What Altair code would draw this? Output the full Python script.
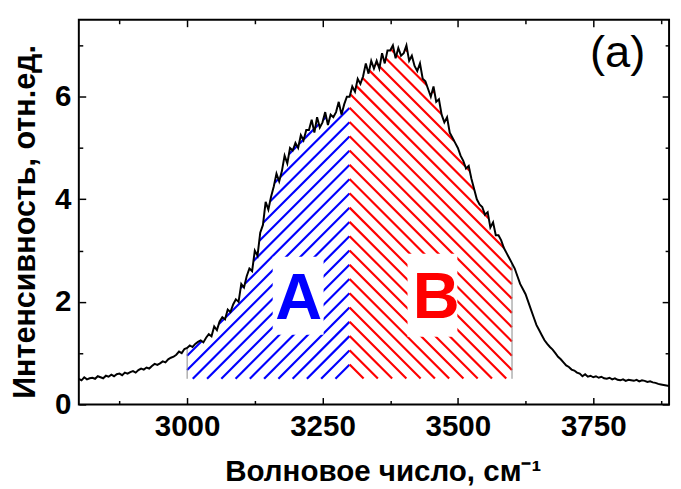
import altair as alt
import numpy as np
import pandas as pd

# ---------------- data ----------------
x_start = 2800
x_step = 5
intensity = [
    0.50, 0.47, 0.53, 0.49, 0.51,  0.52, 0.50, 0.55, 0.53, 0.51,
    0.56, 0.54, 0.58, 0.55, 0.59,  0.60, 0.57, 0.62, 0.60, 0.63,
    0.65, 0.62, 0.67, 0.70, 0.68,  0.72, 0.70, 0.75, 0.79, 0.77,
    0.80, 0.84, 0.82, 0.88, 0.91,  0.93, 0.97, 1.03, 1.00, 1.08,
    1.10, 1.15, 1.12, 1.18, 1.22,  1.25, 1.21, 1.30, 1.37, 1.33,
    1.52, 1.45, 1.62, 1.70, 1.66,  1.85, 1.80, 1.95, 2.05, 2.00,
    2.35, 2.28, 2.50, 2.65, 2.60,  3.00, 2.90, 3.35, 3.50, 3.95,
    3.80, 4.05, 4.25, 4.50, 4.35,  4.55, 4.85, 4.70, 5.00, 4.95,
    5.10, 5.00, 5.25, 5.15, 5.35,  5.35, 5.55, 5.30, 5.60, 5.40,
    5.50, 5.70, 5.45, 5.65, 5.60,  5.70, 5.90, 5.65, 5.85, 6.00,
    6.00, 6.20, 6.10, 6.35, 6.25,  6.40, 6.65, 6.45, 6.70, 6.55,
    6.70, 6.55, 6.85, 6.65, 6.90,  6.90, 7.00, 6.75, 6.95, 6.80,
    6.85, 7.00, 6.70, 6.80, 6.60,  6.50, 6.65, 6.35, 6.30, 6.15,
    6.00, 6.20, 5.90, 5.95, 5.65,  5.50, 5.60, 5.30, 5.20, 5.10,
    5.00, 4.85, 4.75, 4.60, 4.65,  4.40, 4.20, 4.00, 3.90, 3.85,
    3.70, 3.75, 3.45, 3.55, 3.30,  3.30, 3.20, 3.05, 2.95, 2.85,
    2.75, 2.65, 2.50, 2.35, 2.25,  2.15, 2.00, 1.85, 1.70, 1.55,
    1.45, 1.35, 1.25, 1.18, 1.12,  1.07, 1.00, 0.93, 0.88, 0.82,
    0.76, 0.73, 0.68, 0.66, 0.62,  0.60, 0.55, 0.59, 0.54, 0.56,
    0.53, 0.55, 0.52, 0.54, 0.51,  0.50, 0.52, 0.49, 0.51, 0.48,
    0.47, 0.49, 0.46, 0.48, 0.47,  0.46, 0.48, 0.45, 0.47, 0.46,
    0.44, 0.45, 0.43, 0.42, 0.40,  0.39, 0.38, 0.37, 0.36,
]
wavenumber = [x_start + x_step * i for i in range(len(intensity))]

region_names = ["A", "B"]
region_from = [3000, 3300]
region_to = [3300, 3600]
region_colors = ["#0000FF", "#FF0000"]
region_dirs = [1, -1]          # "/" hatching for A, "\" hatching for B
region_base = 0.5

label_x = [3206, 3460]
label_y = [1.66, 1.68]
box_x0 = [3158, 3407]
box_x1 = [3252, 3499]
box_y0 = [1.36, 1.32]
box_y1 = [2.88, 2.94]

panel_label = "(a)"
panel_x = [3795]
panel_y = [6.58]

x_major = [3000, 3250, 3500, 3750]
x_minor = [2875, 3125, 3375, 3625, 3875]
y_major = [0, 2, 4, 6]
y_minor = [1, 3, 5, 7]

X_DOMAIN = [2800, 3890]
Y_DOMAIN = [0, 7.5]
W, H = 600, 391
FONT = "Liberation Sans"

# ---------------- tables ----------------
spec_df = pd.DataFrame({"x": wavenumber, "y": intensity})

xs = np.array(wavenumber, float)
ys = np.array(intensity, float)
kx = W / (X_DOMAIN[1] - X_DOMAIN[0])
ky = H / (Y_DOMAIN[1] - Y_DOMAIN[0])
SP = 14.5   # hatch spacing in pixels (vertical)
ub = 3300 * kx
vb = region_base * ky
rows = []
for name, x0, x1, d in zip(region_names, region_from, region_to, region_dirs):
    uu = np.arange(x0 * kx, x1 * kx + 1e-9, 0.25)
    vc = np.interp(uu / kx, xs, ys) * ky
    for k in range(-90, 90):
        v = vb + k * SP + d * (uu - ub)
        inside = (v >= vb) & (v <= vc)
        idx = np.flatnonzero(inside)
        if idx.size == 0:
            continue
        br = np.where(np.diff(idx) > 1)[0]
        starts = np.r_[idx[0], idx[br + 1]]
        ends = np.r_[idx[br], idx[-1]]
        for s, e in zip(starts, ends):
            if e - s < 8:
                continue
            rows.append({"region": name, "x": uu[s] / kx, "y": v[s] / ky,
                         "x2": uu[e] / kx, "y2": v[e] / ky})
hatch_df = pd.DataFrame(rows)

edge_x = [region_from[0], region_to[1]]
edge_df = pd.DataFrame({"x": edge_x, "y": [region_base] * 2,
                        "y2": list(np.interp(edge_x, xs, ys))})
box_df = pd.DataFrame({"region": region_names, "x": box_x0, "x2": box_x1,
                       "y": box_y0, "y2": box_y1})
lab_df = pd.DataFrame({"region": region_names, "x": label_x, "y": label_y})
panel_df = pd.DataFrame({"t": [panel_label], "x": panel_x, "y": panel_y})

xscale = alt.Scale(domain=X_DOMAIN, nice=False, zero=False)
yscale = alt.Scale(domain=Y_DOMAIN, nice=False, zero=False)
cscale = alt.Scale(domain=region_names, range=region_colors)


def tick_axis(orient, values, size, offset):
    # tick-only axis; negative offset moves it onto the opposite edge so
    # its ticks point into the plot
    return alt.Axis(orient=orient, values=values, tickSize=size, offset=offset,
                    labels=False, domain=False, grid=False, title=None,
                    tickColor="black", tickWidth=1.5)


hatch = alt.Chart(hatch_df).mark_rule(strokeWidth=2.2, strokeCap="butt").encode(
    x=alt.X("x:Q", scale=xscale, axis=None),
    y=alt.Y("y:Q", scale=yscale, axis=None),
    x2="x2:Q", y2="y2:Q",
    color=alt.Color("region:N", scale=cscale, legend=None),
)

edges = alt.Chart(edge_df).mark_rule(strokeWidth=1, color="#888888").encode(
    x=alt.X("x:Q", scale=xscale, axis=None),
    y=alt.Y("y:Q", scale=yscale, axis=None),
    y2="y2:Q",
)

boxes = alt.Chart(box_df).mark_rect(color="white").encode(
    x=alt.X("x:Q", scale=xscale, axis=None),
    x2="x2:Q",
    y=alt.Y("y:Q", scale=yscale, axis=None),
    y2="y2:Q",
)

labels = alt.Chart(lab_df).mark_text(font=FONT, fontWeight="bold", fontSize=66,
                                     align="center", baseline="alphabetic").encode(
    x=alt.X("x:Q", scale=xscale, axis=None),
    y=alt.Y("y:Q", scale=yscale, axis=None),
    text="region:N",
    color=alt.Color("region:N", scale=cscale, legend=None),
)

line = alt.Chart(spec_df).mark_line(color="black", strokeWidth=2).encode(
    x=alt.X("x:Q", scale=xscale,
            axis=alt.Axis(orient="bottom", values=x_major, format="d", ticks=False,
                          domain=False, grid=False, labelFont=FONT,
                          labelFontWeight="bold", labelFontSize=30, labelColor="black",
                          labelPadding=8, title="Волновое число, см⁻¹", titleFont=FONT,
                          titleFontWeight="bold", titleFontSize=30, titleColor="black",
                          titlePadding=15, titleX=309)),
    y=alt.Y("y:Q", scale=yscale,
            axis=alt.Axis(orient="left", values=y_major, format="d", ticks=False,
                          domain=False, grid=False, labelFont=FONT,
                          labelFontWeight="bold", labelFontSize=30, labelColor="black",
                          labelPadding=8, title="Интенсивность, отн.ед.", titleFont=FONT,
                          titleFontWeight="bold", titleFontSize=31, titleColor="black",
                          titlePadding=13, titleY=205)),
)

panel = alt.Chart(panel_df).mark_text(font=FONT, fontSize=46, align="center",
                                      baseline="alphabetic", color="black").encode(
    x=alt.X("x:Q", scale=xscale, axis=None),
    y=alt.Y("y:Q", scale=yscale, axis=None),
    text="t:N",
)

pts = alt.Chart(spec_df).mark_point(opacity=0)
# bottom & left edges, inward
ticks_bl_major = pts.encode(
    x=alt.X("x:Q", scale=xscale, axis=tick_axis("top", x_major, 7, -H)),
    y=alt.Y("y:Q", scale=yscale, axis=tick_axis("right", y_major, 7, -W)),
)
ticks_bl_minor = pts.encode(
    x=alt.X("x:Q", scale=xscale, axis=tick_axis("top", x_minor, 4, -H)),
    y=alt.Y("y:Q", scale=yscale, axis=tick_axis("right", y_minor, 4, -W)),
)
# top & right edges, inward
ticks_tr_major = pts.encode(
    x=alt.X("x:Q", scale=xscale, axis=tick_axis("bottom", x_major, 7, -H)),
    y=alt.Y("y:Q", scale=yscale, axis=tick_axis("left", y_major, 7, -W)),
)
ticks_tr_minor = pts.encode(
    x=alt.X("x:Q", scale=xscale, axis=tick_axis("bottom", x_minor, 4, -H)),
    y=alt.Y("y:Q", scale=yscale, axis=tick_axis("left", y_minor, 4, -W)),
)

chart = alt.layer(
    hatch, edges, boxes, labels, line, panel,
    ticks_bl_major, ticks_bl_minor, ticks_tr_major, ticks_tr_minor,
).resolve_axis(x="independent", y="independent").properties(
    width=W, height=H,
    padding={"left": 2, "top": 7, "right": 0, "bottom": 0},
).configure_view(stroke="black", strokeWidth=2)

chart.save("out.html", embed_options={"renderer": "svg", "actions": False})
